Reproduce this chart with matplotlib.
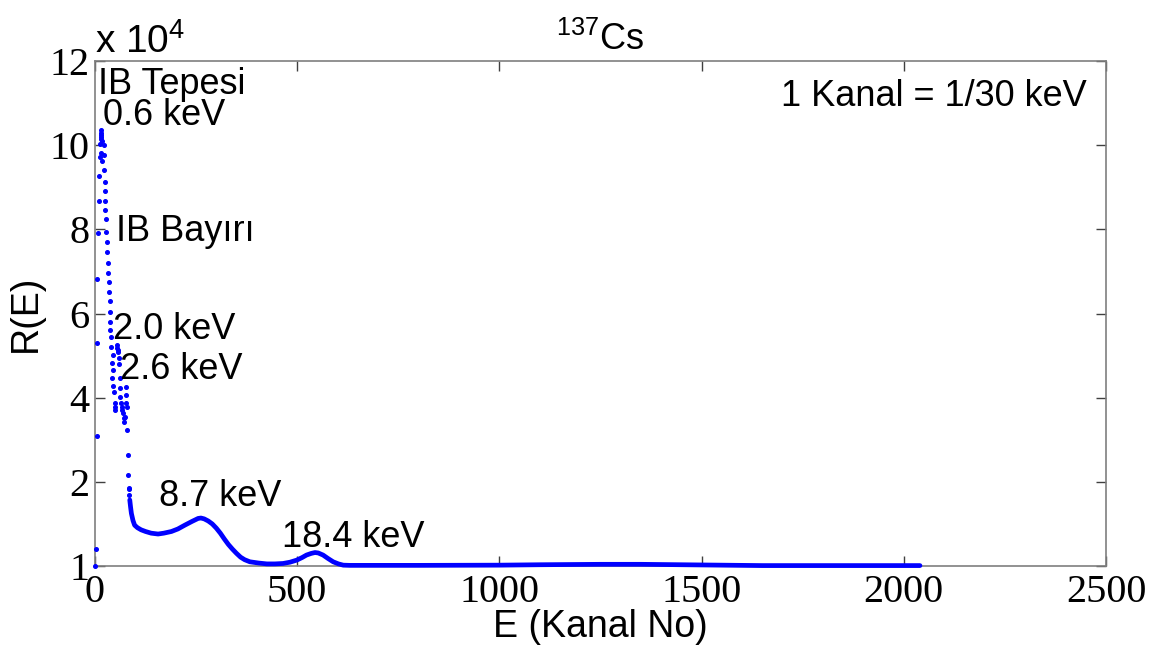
import matplotlib
matplotlib.use("Agg")
import matplotlib.pyplot as plt

plt.rcParams["mathtext.default"] = "regular"

# Low-channel scatter region (channel, R(E) in units of 1e4)
scatter_channel = [1, 2, 4, 5, 6, 7, 9, 10, 12, 13,
                   14, 15, 15, 16, 16, 17, 16, 18, 22, 22,
                   23, 24, 24, 24, 24, 26, 26, 30, 30, 32,
                   32, 35, 35, 36, 36, 38, 38, 40, 40, 45,
                   42, 44, 43, 44, 46, 49, 50, 49,
                   54, 55, 57, 58, 59, 60, 61, 61, 63, 65,
                   66, 67, 69, 71, 71, 73,
                   77, 77, 77, 80, 80, 82, 82, 83, 83, 84]
scatter_value = [0.00, 0.40, 3.09, 5.31, 6.82, 7.91, 8.68, 9.27, 9.73, 10.03,
                 10.35, 10.30, 10.25, 10.20, 10.15, 10.10, 9.81, 9.62, 10.00, 9.77,
                 9.41, 9.13, 8.92, 8.68, 8.46, 8.25, 7.94, 7.71, 7.45, 7.21,
                 6.97, 6.76, 6.52, 6.30, 6.04, 5.81, 5.61, 5.44, 5.20, 5.01,
                 4.82, 4.66, 4.47, 4.28, 4.14, 3.88, 3.79, 3.71,
                 5.18, 5.25, 5.08, 5.13, 4.80, 4.95, 4.47, 4.23, 4.02, 3.87,
                 3.70, 3.79, 3.63, 3.51, 3.43, 3.55,
                 4.25, 4.06, 3.87, 3.79, 3.23, 2.64, 2.16, 1.85, 1.82, 1.69]

# Smooth continuum from channel 86 to the end of the spectrum
curve_channel = [86, 88, 90, 94, 98, 105, 114, 125, 139, 156,
                 170, 189, 205, 222, 240, 255, 262, 270, 280, 290,
                 300, 310, 320, 330, 340, 350, 360, 370, 383, 405,
                 425, 445, 465, 482, 499, 512, 523, 535, 544, 552,
                 564, 576, 589, 602, 614, 630, 700, 800, 1000, 1100,
                 1250, 1350, 1450, 1550, 1650, 1800, 2040]
curve_value = [1.57, 1.40, 1.25, 1.08, 0.97, 0.91, 0.86, 0.82, 0.78, 0.76,
               0.78, 0.82, 0.88, 0.97, 1.06, 1.13, 1.14, 1.12, 1.07, 1.00,
               0.90, 0.78, 0.64, 0.51, 0.40, 0.30, 0.21, 0.15, 0.10, 0.07,
               0.05, 0.05, 0.06, 0.09, 0.14, 0.20, 0.26, 0.30, 0.32, 0.31,
               0.26, 0.18, 0.10, 0.05, 0.02, 0.015, 0.015, 0.015, 0.02, 0.03,
               0.04, 0.04, 0.03, 0.02, 0.01, 0.01, 0.01]

x_ticks = [0, 500, 1000, 1500, 2000, 2500]
y_ticks = [0, 2, 4, 6, 8, 10, 12]
y_tick_labels = ["1", "2", "4", "6", "8", "10", "12"]

peak_labels = [
    ("IB Tepesi", 8, 11.45),
    ("0.6 keV", 21, 10.70),
    ("IB Bayırı", 52, 7.96),
    ("2.0 keV", 44, 5.61),
    ("2.6 keV", 61, 4.68),
    ("8.7 keV", 158, 1.64),
    ("18.4 keV", 463, 0.67),
]

blue = "#0000ff"
spine_gray = "#7f7f7f"
sans = "Liberation Sans"
serif = "Liberation Serif"

fig = plt.figure(figsize=(11.57, 6.52), dpi=100)
ax = fig.add_axes([0.0821, 0.1319, 0.8738, 0.7745])

ax.plot(curve_channel, curve_value, color=blue, lw=3.4,
        solid_capstyle="round", solid_joinstyle="round",
        clip_on=False, zorder=3)
ax.plot(scatter_channel, scatter_value, linestyle="none", marker="o",
        ms=2.6, mec=blue, mfc=blue, clip_on=False, zorder=3)

ax.set_xlim(0, 2500)
ax.set_ylim(0, 12)
ax.set_xticks(x_ticks)
ax.set_xticklabels([str(t) for t in x_ticks], fontfamily=serif, fontsize=29)
ax.set_yticks(y_ticks)
ax.set_yticklabels(y_tick_labels, fontfamily=serif, fontsize=29)
ax.tick_params(direction="in", length=7, width=1.0, color="#404040",
               top=True, right=True, pad=4)
ax.tick_params(axis="x", pad=6)

for side in ax.spines.values():
    side.set_color(spine_gray)
    side.set_linewidth(1.2)

ax.set_xlabel("E (Kanal No)", fontfamily=sans, fontsize=27, labelpad=-2)
ax.set_ylabel("R(E)", fontfamily=sans, fontsize=27, labelpad=4)
ax.set_title(r"$^{137}$Cs", fontfamily=sans, fontsize=26, pad=8)

# exponent marker above the y axis
ax.text(0.0, 1.0, r"x 10$^{4}$", transform=ax.transAxes,
        fontfamily=sans, fontsize=28, ha="left", va="bottom")

for text, xc, yc in peak_labels:
    ax.text(xc, yc, text, fontfamily=sans, fontsize=26,
            ha="left", va="center", zorder=4)

ax.text(2453, 11.15, "1 Kanal = 1/30 keV", fontfamily=sans, fontsize=26,
        ha="right", va="center")

fig.savefig("out.png", dpi=100)
